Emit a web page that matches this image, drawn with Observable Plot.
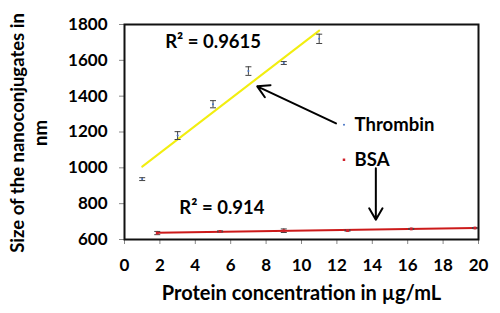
<!DOCTYPE html>
<html>
<head>
<meta charset="utf-8">
<script src="https://cdn.jsdelivr.net/npm/d3@7"></script>
<script src="https://cdn.jsdelivr.net/npm/@observablehq/plot@0.6"></script>
<style>
  body { margin: 0; background: #fff; }
  #chart { width: 500px; height: 313px; }
  svg { font-family: Lato, "Open Sans", sans-serif; }
</style>
</head>
<body>
<div id="chart"></div>
<script>
// Thrombin series
const thrombinX = [1, 3, 5, 7, 9, 11];
const thrombinY = [937, 1180, 1355, 1540, 1585, 1720];
const thrombinErr = [8, 22, 20, 24, 8, 26];
// BSA series
const bsaX = [1.85, 5.4, 9, 12.6, 16.2, 19.8];
const bsaY = [636, 645, 649, 650, 659, 664];
const bsaErr = [9, 3, 10, 3, 3, 3];
// Axis ticks
const xTicks = [0, 2, 4, 6, 8, 10, 12, 14, 16, 18, 20];
const yTicks = [600, 800, 1000, 1200, 1400, 1600, 1800];
// Labels
const seriesNames = ["Thrombin", "BSA"];
const r2Labels = ["R² = 0.9615", "R² = 0.914"];

const thrombin = thrombinX.map((x, i) => ({x, y: thrombinY[i], e: thrombinErr[i]}));
const bsa = bsaX.map((x, i) => ({x, y: bsaY[i], e: bsaErr[i]}));

const capW = 0.17;
const errMarks = (data, color) => [
  Plot.ruleX(data, {x: "x", y1: d => d.y - d.e, y2: d => d.y + d.e, stroke: color, strokeWidth: 1}),
  Plot.link(data, {x1: d => d.x - capW, x2: d => d.x + capW, y1: d => d.y - d.e, y2: d => d.y - d.e, stroke: color, strokeWidth: 1}),
  Plot.link(data, {x1: d => d.x - capW, x2: d => d.x + capW, y1: d => d.y + d.e, y2: d => d.y + d.e, stroke: color, strokeWidth: 1})
];

const chart = Plot.plot({
  width: 500,
  height: 313,
  marginLeft: 124,
  marginRight: 22,
  marginTop: 24,
  marginBottom: 74,
  style: {fontFamily: "Lato, 'Open Sans', sans-serif", background: "#fff", overflow: "visible"},
  x: {domain: [0, 20], label: null},
  y: {domain: [600, 1800], label: null},
  marks: [
    Plot.axisX({ticks: xTicks, tickFormat: "d", tickSize: 5, tickPadding: 14, fontSize: 17, fontWeight: "bold", stroke: "#888", color: "#000", label: null}),
    Plot.axisY({ticks: yTicks, tickFormat: "d", tickSize: 5, tickPadding: 12, fontSize: 17, fontWeight: "bold", stroke: "#888", color: "#000", label: null}),
    Plot.frame({stroke: "#111", strokeWidth: 2}),
    Plot.linearRegressionY(thrombin, {x: "x", y: "y", stroke: "#f2ee10", strokeWidth: 2, ci: 0}),
    Plot.linearRegressionY(bsa, {x: "x", y: "y", stroke: "#cc1a1a", strokeWidth: 2, ci: 0}),
    ...errMarks(thrombin, "#444"),
    ...errMarks(bsa, "#444"),
    Plot.dot(thrombin, {x: "x", y: "y", r: 1, fill: "#4472c4", stroke: "none"}),
    Plot.dot(bsa, {x: "x", y: "y", r: 1.6, fill: "#d0202a", stroke: "none", symbol: "square"}),
    // R² annotations
    Plot.text([r2Labels[0]], {x: 2.3, y: 1702, text: d => d, textAnchor: "start", fontSize: 18.5, fontWeight: "bold", fill: "#000"}),
    Plot.text([r2Labels[1]], {x: 3.1, y: 775, text: d => d, textAnchor: "start", fontSize: 18.5, fontWeight: "bold", fill: "#000"}),
    // in-plot legend
    Plot.dot([seriesNames[0]], {x: 12.4, y: 1240, r: 1, fill: "#4472c4", stroke: "none"}),
    Plot.text([seriesNames[0]], {x: 13.0, y: 1240, text: d => d, textAnchor: "start", fontSize: 18.5, fontWeight: "bold", fill: "#000"}),
    Plot.dot([seriesNames[1]], {x: 12.4, y: 1045, r: 1.4, fill: "#d0202a", stroke: "none", symbol: "square"}),
    Plot.text([seriesNames[1]], {x: 13.0, y: 1045, text: d => d, textAnchor: "start", fontSize: 18.5, fontWeight: "bold", fill: "#000"}),
    // arrows
    Plot.arrow([0], {x1: 11.95, y1: 1248, x2: 7.5, y2: 1455, stroke: "#000", strokeWidth: 2, headLength: 10}),
    Plot.arrow([0], {x1: 14.2, y1: 997, x2: 14.2, y2: 710, stroke: "#000", strokeWidth: 2, headLength: 10}),
    // axis titles
    Plot.text(["Protein concentration in µg/mL"], {frameAnchor: "bottom", dy: 60, text: d => d, fontSize: 20, fontWeight: "bold", fill: "#000"}),
    Plot.text(["Size of the nanoconjugates in"], {frameAnchor: "left", dx: -106, dy: 1, rotate: -90, textAnchor: "middle", text: d => d, fontSize: 18.5, fontWeight: "bold", fill: "#000"}),
    Plot.text(["nm"], {frameAnchor: "left", dx: -83, dy: 1, rotate: -90, textAnchor: "middle", text: d => d, fontSize: 18.5, fontWeight: "bold", fill: "#000"})
  ]
});
document.getElementById("chart").appendChild(chart);
</script>
</body>
</html>
